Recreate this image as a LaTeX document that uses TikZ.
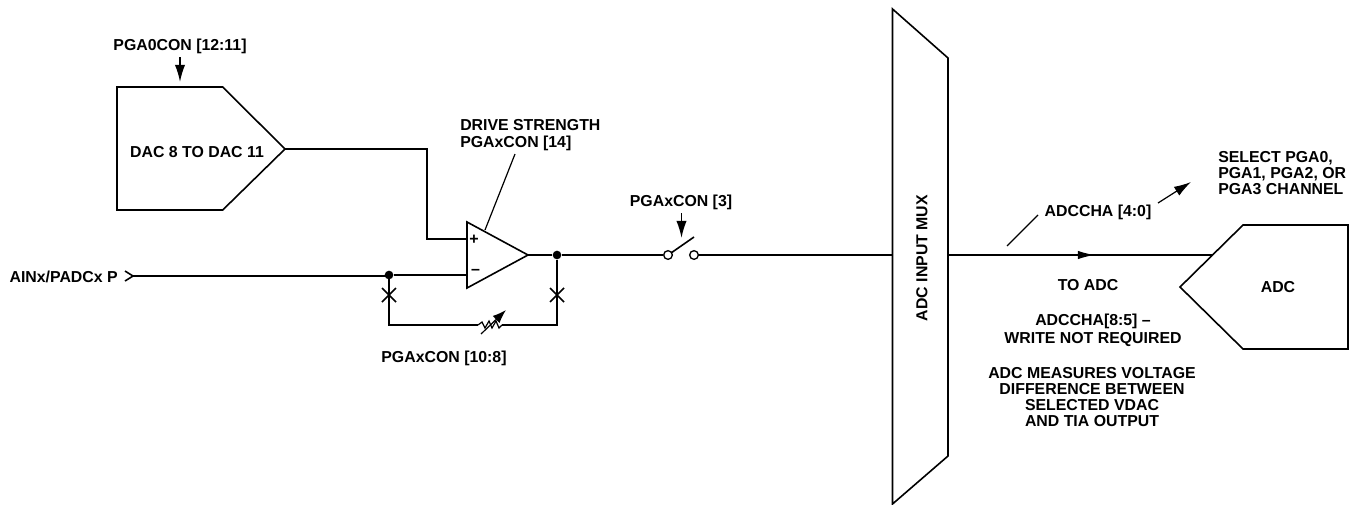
\documentclass[tikz,border=0pt]{standalone}
\usepackage{fontspec}
\setmainfont{Liberation Sans}
\usepackage{tikz}
\usetikzlibrary{positioning,arrows.meta,calc}

\begin{document}
\begin{tikzpicture}[
                x=0.75pt,y=-0.75pt,
                wire/.style={line width=1.2pt, line join=miter},
                leader/.style={line width=0.9pt},
                label/.style={font=\bfseries\fontsize{11.9}{12.2}\selectfont, align=center, inner sep=0pt},
                arrow/.style={wire, -{Latex[length=4.5mm, width=2.7mm]}},
                dot/.style={circle, fill=black, inner sep=0pt, minimum size=6.5pt},
                contact/.style={circle, draw, fill=white, line width=1pt, inner sep=0pt, minimum size=6.5pt}
            ]
                \useasboundingbox (0,0) rectangle (1358,504);

                % input side
                \node[label, anchor=east] (ain) at (118,277) {AINx/PADCx P};
                \coordinate (aintip) at (133,276);
                \coordinate (dactip) at (285,149);
                \node[label] (dac) at (197,152) {DAC 8 TO DAC 11};
                \node[label] (dacsel) at (180,46) {PGA0CON [12:11]};
                \coordinate (dactop) at (180,82);
                \draw[wire] (117,87) -- (222.7,87) -- (dactip) -- (222.7,210) -- (117,210) -- cycle;
                \draw[arrow] (180,57) -- (dactop);
                \draw[wire] (125,271) -- (aintip) -- (125,281);

                % amplifier
                \coordinate (ampout) at (528,255);
                \coordinate (plus) at (467,239);
                \coordinate (minus) at (467,275);
                \draw[wire] (467,222) -- (ampout) -- (467,288) -- cycle;
                \node[label, font=\bfseries\fontsize{12}{12}\selectfont] (pl) at (474,240) {+};
                \node[label, font=\bfseries\fontsize{12}{12}\selectfont] (mi) at (475.5,272) {--};
                \node[dot] (fbin) at (389,275) {};
                \node[dot] (fbout) at (557,255) {};
                \draw[wire] (dactip) -- (427,149) -- (427,239) -- (plus);
                \draw[wire] (aintip) -- (389,276) -- (fbin) -- (minus);
                \draw[wire] (ampout) -- (fbout);

                % feedback resistor
                \coordinate (resl) at (478,325);
                \coordinate (resr) at (502,325);
                \draw[wire] (fbin) |- (resl);
                \draw[wire] (fbout) |- (resr);
                \draw[leader] (resl) -- ++(4,-3) -- ++(3,6) -- ++(4,-7) -- ++(3,7) -- ++(4,-7) -- ++(3,7) -- (resr);
                \draw[leader, -{Latex[length=3.6mm, width=2.6mm]}] (481,334) -- (506,310);
                \foreach \px in {389,557}
                    \draw[wire] (\px-7,288) -- (\px+7,302) (\px-7,302) -- (\px+7,288);
                \node[label] (resel) at (444,358) {PGAxCON [10:8]};

                % drive strength
                \node[label, align=left, anchor=west] (drive) at (460,135) {DRIVE STRENGTH\\PGAxCON [14]};
                \coordinate (drvfoot) at (485,230);
                \draw[leader] (drvfoot) -- (515,154);

                % switch
                \node[contact] (swa) at (668,255) {};
                \node[contact] (swb) at (694,255) {};
                \node[label] (swsel) at (681,202) {PGAxCON [3]};
                \draw[wire] (fbout) -- (swa);
                \draw[wire] (671,253) -- (694,237);
                \draw[arrow] (681.5,213) -- (681.5,238);

                % mux
                \coordinate (muxin) at (892.5,255);
                \coordinate (muxout) at (948,255);
                \draw[wire] (892.5,9) -- (948,58) -- (948,456) -- (892.5,504) -- cycle;
                \node[label, rotate=90] (mux) at (922,258) {ADC INPUT MUX};
                \draw[wire] (swb) -- (muxin);

                % adc
                \coordinate (adcin) at (1212,255);
                \draw[wire] (1180,287) -- (1243,225) -- (1348,225) -- (1348,349) -- (1243,349) -- cycle;
                \node[label] (adc) at (1278,287) {ADC};
                \draw[wire] (muxout) -- (adcin);
                \draw[wire, -{Latex[length=4.5mm, width=2.2mm]}] (1072,255) -- (1095,255);

                % channel select
                \node[label] (cha) at (1098,212) {ADCCHA [4:0]};
                \node[label, align=left, anchor=west] (sel) at (1218,173) {SELECT PGA0,\\PGA1, PGA2, OR\\PGA3 CHANNEL};
                \draw[leader] (1007,246) -- (1038,215);
                \draw[arrow, line width=0.9pt] (1158,203) -- (1191,182);

                % notes under the output
                \node[label] (toadc) at (1088,285) {TO ADC};
                \node[label, font=\bfseries\fontsize{11.9}{13.5}\selectfont] (wrn) at (1093,330) {ADCCHA[8:5] --\\WRITE NOT REQUIRED};
                \node[label] (meas) at (1092,397) {ADC MEASURES VOLTAGE\\DIFFERENCE BETWEEN\\SELECTED VDAC\\AND TIA OUTPUT};
            \end{tikzpicture}
\end{document}
